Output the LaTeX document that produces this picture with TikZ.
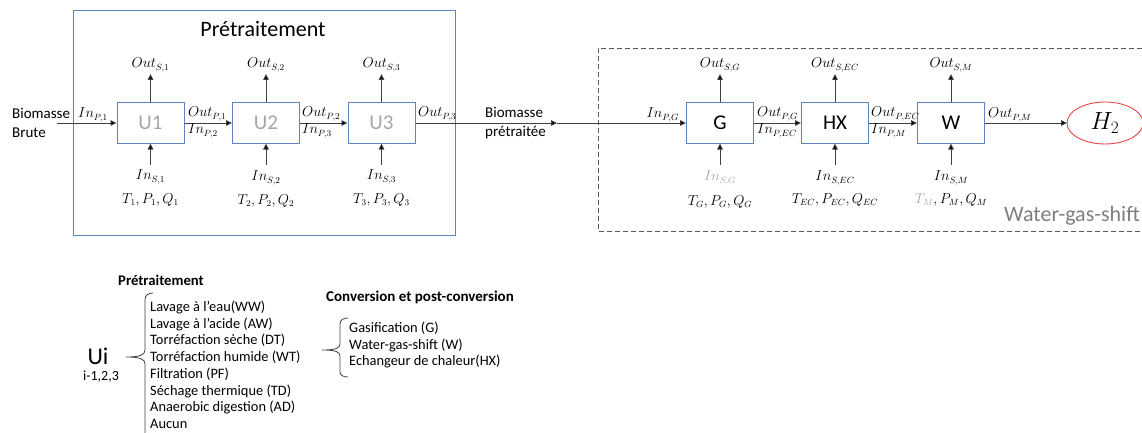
\documentclass[tikz,border=0pt]{standalone}
\usepackage{fontspec}
\setmainfont{Carlito}
\usetikzlibrary{arrows.meta}
\definecolor{boxblue}{HTML}{5F82C2}
\definecolor{ugray}{HTML}{A6A6A6}
\definecolor{linegray}{HTML}{404040}
\definecolor{dashgray}{HTML}{595959}
\definecolor{wgsgray}{HTML}{7F7F7F}
\definecolor{h2red}{HTML}{E84545}
\tikzset{
  unitbox/.style={draw=boxblue, line width=1pt, minimum width=67pt, minimum height=40pt, inner sep=0pt, font=\fontsize{21}{24}\selectfont},
  flow/.style={draw=linegray, line width=0.9pt, -{Triangle[length=6pt,width=5.5pt,fill=black]}},
  mlab/.style={inner sep=0pt, font=\fontsize{13.5}{15}\selectfont},
  txt/.style={inner sep=0pt, font=\fontsize{15}{19}\selectfont, align=left},
  item/.style={inner sep=0pt, anchor=west, font=\fontsize{14.4}{17}\selectfont},
  brace/.style={draw=linegray, line width=0.8pt}
}
\begin{document}
\begin{tikzpicture}[x=1pt,y=-1pt]
\useasboundingbox (0,0) rectangle (1142,433);
% Pretraitement frame
\draw[boxblue, line width=1pt] (73,11) rectangle (455,235);
\node[inner sep=0pt, font=\fontsize{22}{24}\selectfont] (ptitle) at (263,29) {Prétraitement};
% dashed frame
\draw[dashgray, line width=0.9pt, dash pattern=on 5pt off 3pt] (1142,48) -- (598,48) -- (598,231) -- (1142,231);
\node[inner sep=0pt, text=wgsgray, font=\fontsize{22}{24}\selectfont, anchor=east] (wgs) at (1140,216) {Water-gas-shift};

% unit boxes
\node[unitbox, text=ugray] (U1) at (150.5,123) {U1};
\node[unitbox, text=ugray] (U2) at (266,123) {U2};
\node[unitbox, text=ugray] (U3) at (381.5,123) {U3};
\node[unitbox] (G) at (720,123) {G};
\node[unitbox] (HX) at (835,123) {HX};
\node[unitbox] (W) at (951,123) {W};
\draw[h2red, line width=0.9pt] (1105,123) ellipse [x radius=38, y radius=21];
\node[inner sep=0pt, font=\fontsize{23}{25}\selectfont] (H2) at (1105,123) {$H_2$};
\coordinate (H2w) at (1067,123);

% input text
\node[txt, anchor=west] (bb) at (12,123) {Biomasse\\Brute};
\node[txt, anchor=west] (bp) at (485,123) {Biomasse\\prétraitée};

% horizontal flows
\coordinate (in1) at (57,123);
\coordinate (mid) at (557,123);
\draw[flow] (in1) -- (U1);
\draw[flow] (U1) -- (U2);
\draw[flow] (U2) -- (U3);
\draw[flow] (U3) -- (mid);
\draw[flow] (mid) -- (G);
\draw[flow] (G) -- (HX);
\draw[flow] (HX) -- (W);
\draw[flow] (W) -- (H2w);

% horizontal labels
\node[mlab, anchor=east] (lin1) at (108,115) {$In_{P,1}$};
\node[mlab, anchor=west] (lo1) at (188,114) {$Out_{P,1}$};
\node[mlab, anchor=west] (li2) at (188,131) {$In_{P,2}$};
\node[mlab, anchor=west] (lo2) at (302,114) {$Out_{P,2}$};
\node[mlab, anchor=west] (li3) at (302,131) {$In_{P,3}$};
\node[mlab, anchor=west] (lo3) at (418,114) {$Out_{P,3}$};
\node[mlab, anchor=east] (linG) at (679,115) {$In_{P,G}$};
\node[mlab, anchor=west] (loG) at (757,114) {$Out_{P,G}$};
\node[mlab, anchor=west] (liEC) at (757,131) {$In_{P,EC}$};
\node[mlab, anchor=west] (loEC) at (871,114) {$Out_{P,EC}$};
\node[mlab, anchor=west] (liM) at (871,131) {$In_{P,M}$};
\node[mlab, anchor=west] (loM) at (988,115) {$Out_{P,M}$};

% vertical flows
\foreach \u/\x/\s in {U1/150.5/1, U2/266/2, U3/381.5/3, G/720/G, HX/835/EC, W/951/M}{
  \coordinate (os\u) at (\x,74);
  \coordinate (is\u) at (\x,165);
  \draw[flow] (\u) -- (os\u);
  \draw[flow] (is\u) -- (\u);
  \node[mlab] (los\u) at (\x,65) {$Out_{S,\s}$};
}
\node[mlab] (lisU1) at (150.5,177) {$In_{S,1}$};
\node[mlab] (lisU2) at (266,178) {$In_{S,2}$};
\node[mlab] (lisU3) at (381.5,177) {$In_{S,3}$};
\node[mlab, text=ugray] (lisG) at (720,178) {$In_{S,G}$};
\node[mlab] (lisHX) at (835,178) {$In_{S,EC}$};
\node[mlab] (lisW) at (951,178) {$In_{S,M}$};
\node[mlab] (tU1) at (150.5,200) {$T_1, P_1, Q_1$};
\node[mlab] (tU2) at (266,201) {$T_2, P_2, Q_2$};
\node[mlab] (tU3) at (381.5,200) {$T_3, P_3, Q_3$};
\node[mlab] (tG) at (720,202) {$T_G, P_G, Q_G$};
\node[mlab] (tHX) at (835,200) {$T_{EC}, P_{EC}, Q_{EC}$};
\node[mlab] (tW) at (951,200) {$\textcolor{ugray}{T_M}, P_M, Q_M$};

% legend: pretraitement
\node[inner sep=0pt, font=\fontsize{14.7}{16}\selectfont\bfseries] (lp) at (161,280) {Prétraitement};
\node[inner sep=0pt, font=\fontsize{24}{26}\selectfont] (ui) at (98,356) {Ui};
\node[inner sep=0pt, font=\fontsize{14}{16}\selectfont] (ui2) at (101,377) {i-1,2,3};
\draw[brace] (153,293) .. controls (148,293) and (145,295) .. (145,300) -- (145,350)
  .. controls (145,355) and (140,357) .. (126,357)
  .. controls (140,357) and (145,359) .. (145,364) -- (145,434);
\node[item] (p1) at (150,307) {Lavage à l’eau(WW)};
\node[item] (p2) at (150,324) {Lavage à l’acide (AW)};
\node[item] (p3) at (150,340) {Torréfaction sèche (DT)};
\node[item] (p4) at (150,357) {Torréfaction humide (WT)};
\node[item] (p5) at (150,374) {Filtration (PF)};
\node[item] (p6) at (150,391) {Séchage thermique (TD)};
\node[item] (p7) at (150,407) {Anaerobic digestion (AD)};
\node[item] (p8) at (150,424) {Aucun};

% legend: conversion
\node[inner sep=0pt, font=\fontsize{15}{17}\selectfont\bfseries] (lc) at (420,297) {Conversion et post-conversion};
\draw[brace] (348,318) .. controls (343,318) and (340,320) .. (340,324) -- (340,344)
  .. controls (340,348) and (336,350) .. (322,350)
  .. controls (336,350) and (340,352) .. (340,356) -- (340,372)
  .. controls (340,375) and (343,377) .. (348,377);
\node[item] (c1) at (349,328) {Gasification (G)};
\node[item] (c2) at (349,345) {Water-gas-shift (W)};
\node[item] (c3) at (349,361) {Echangeur de chaleur(HX)};
\end{tikzpicture}
\end{document}
